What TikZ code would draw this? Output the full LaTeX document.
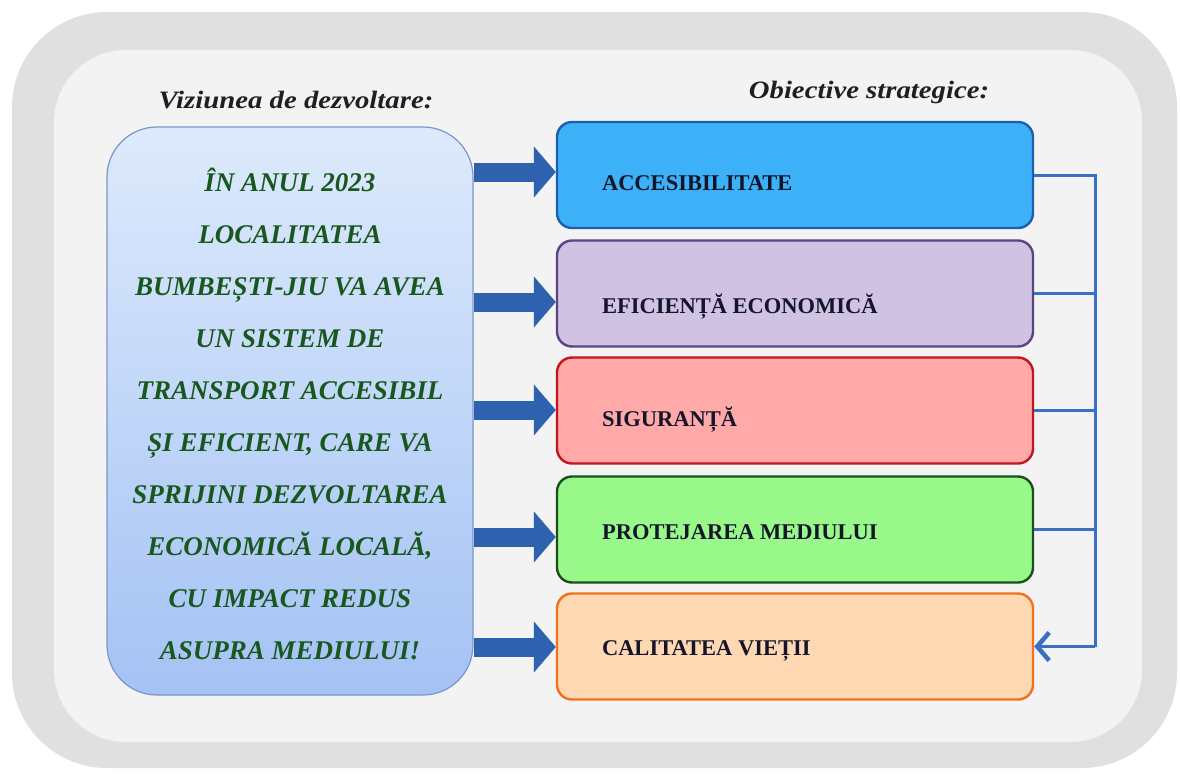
\documentclass[tikz,border=0pt]{standalone}
\usepackage{fontspec}
\setmainfont{Liberation Serif}
\newfontfamily\headfont{Liberation Serif}[FakeStretch=1.15]
\usetikzlibrary{arrows.meta}
\definecolor{frameout}{HTML}{E0E0E0}
\definecolor{framein}{HTML}{F3F3F3}
\definecolor{vistop}{HTML}{DEEAFC}
\definecolor{visbot}{HTML}{A4C2F4}
\definecolor{visborder}{HTML}{7B95C8}
\definecolor{vistext}{HTML}{18581E}
\definecolor{arrowblue}{HTML}{2E62AE}
\definecolor{connblue}{HTML}{3A70C4}
\definecolor{boxtext}{HTML}{15152A}
\definecolor{fillA}{HTML}{3CB1F8}\definecolor{drawA}{HTML}{1D5FAE}
\definecolor{fillB}{HTML}{CFC2E2}\definecolor{drawB}{HTML}{5B4481}
\definecolor{fillC}{HTML}{FFA9A9}\definecolor{drawC}{HTML}{C0171F}
\definecolor{fillD}{HTML}{98F98A}\definecolor{drawD}{HTML}{1C4F1C}
\definecolor{fillE}{HTML}{FED7B3}\definecolor{drawE}{HTML}{F0711F}
\begin{document}
\begin{tikzpicture}[x=1pt,y=-1pt,
  heading/.style={font=\headfont\fontsize{25}{29}\selectfont\bfseries\itshape, text=black!88, inner sep=0pt},
  visbox/.style={rounded corners=50pt, draw=visborder, line width=1.2pt, top color=vistop, bottom color=visbot,
     minimum width=366pt, minimum height=568pt, inner sep=0pt},
  vistxt/.style={font=\fontsize{27}{52}\selectfont\bfseries\itshape, text=vistext, align=center, inner sep=0pt},
  obox/.style={rounded corners=15pt, line width=2.4pt, minimum width=476pt, minimum height=106pt, inner sep=0pt},
  otext/.style={font=\fontsize{22.5}{26}\selectfont\bfseries, text=boxtext, inner sep=0pt, anchor=base west},
  blockarrow/.style={line width=19pt, arrowblue, -{Triangle[length=22pt,width=50pt]}},
  conn/.style={connblue, line width=3pt},
]
\useasboundingbox (0,0) rectangle (1180,776);
% frame
\fill[frameout, rounded corners=95pt] (12,12) rectangle (1177,768);
\fill[framein, rounded corners=72pt] (54,50) rectangle (1142,742);
% headings
\node[heading] (h1) at (296,100) {Viziunea de dezvoltare:};
\node[heading] (h2) at (869,92) {Obiective strategice:};
% vision box
\node[visbox] (vis) at (290,411) {};
\node[vistxt] (vt) at (290,414) {ÎN ANUL 2023\\ LOCALITATEA\\ BUMBEȘTI-JIU VA AVEA\\ UN SISTEM DE\\ TRANSPORT ACCESIBIL\\ ȘI EFICIENT, CARE VA\\ SPRIJINI DEZVOLTAREA\\ ECONOMICĂ LOCALĂ,\\ CU IMPACT REDUS\\ ASUPRA MEDIULUI!};
% objectives
\node[obox, fill=fillA, draw=drawA] (o1) at (795,175) {};
\node[obox, fill=fillB, draw=drawB] (o2) at (795,293.5) {};
\node[obox, fill=fillC, draw=drawC] (o3) at (795,410.5) {};
\node[obox, fill=fillD, draw=drawD] (o4) at (795,529.5) {};
\node[obox, fill=fillE, draw=drawE] (o5) at (795,646.5) {};
\node[otext] (t1) at ([xshift=46pt]o1.west |- 0,190) {ACCESIBILITATE};
\node[otext] (t2) at ([xshift=46pt]o2.west |- 0,313) {EFICIENȚĂ ECONOMICĂ};
\node[otext] (t3) at ([xshift=46pt]o3.west |- 0,426) {SIGURANȚĂ};
\node[otext] (t4) at ([xshift=46pt]o4.west |- 0,539) {PROTEJAREA MEDIULUI};
\node[otext] (t5) at ([xshift=46pt]o5.west |- 0,655) {CALITATEA VIEȚII};
% block arrows
\draw[blockarrow] (vis.east |- 0,172) -- (o1.west |- 0,172);
\draw[blockarrow] (vis.east |- 0,302) -- (o2.west |- 0,302);
\draw[blockarrow] (vis.east |- 0,410) -- (o3.west |- 0,410);
\draw[blockarrow] (vis.east |- 0,537) -- (o4.west |- 0,537);
\draw[blockarrow] (vis.east |- 0,647) -- (o5.west |- 0,647);
% feedback connector
\coordinate (bus) at (1095,0);
\draw[conn, line join=miter] (o1.east) -- (o1.east -| bus) -- (o5.east -| bus);
\draw[conn] (o2.east) -- (o2.east -| bus);
\draw[conn] (o3.east) -- (o3.east -| bus);
\draw[conn] (o4.east) -- (o4.east -| bus);
\draw[conn, line join=miter, -{Straight Barb[length=12pt,width=28pt,line width=4.5pt]}] (o5.east -| bus) -- (o5.east);
\end{tikzpicture}
\end{document}
